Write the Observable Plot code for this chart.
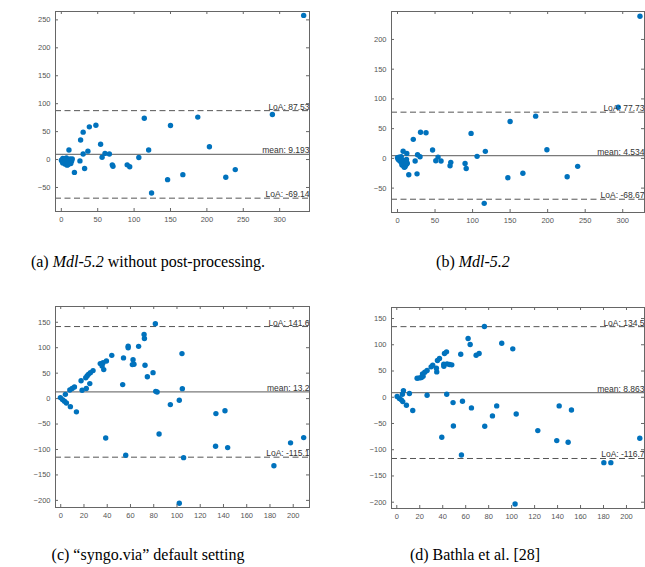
<!DOCTYPE html>
<html>
<head>
<meta charset="utf-8">
<script src="https://cdn.jsdelivr.net/npm/d3@7"></script>
<script src="https://cdn.jsdelivr.net/npm/@observablehq/plot@0.6"></script>
<style>
  body { margin: 0; background: #fff; }
  #wrap { position: relative; width: 645px; height: 567px; overflow: hidden; background: #fff; }
  .pane { position: absolute; }
  .cap { position: absolute; text-align: center; font-family: "Liberation Serif", "Times New Roman", serif; font-size: 16px; line-height: 18px; color: #000; white-space: nowrap; }
</style>
</head>
<body>
<div id="wrap"></div>
<script>
// ---- data: [mean, difference] pairs ----
const pointsA = [[333,258],[290,80.5],[114,74],[150,61],[187.5,76],[203.5,23],[226,-31.6],[239,-18],[167,-27],[146,-36],[124,-60],[120,17],[106.5,3.6],[90.5,-9.5],[94,-13],[70,-9.5],[71,-12],[66,10],[60,11],[56,4],[54,27.5],[47.5,61.5],[38.5,58.5],[30,49],[26.5,35],[36.5,15],[30,10],[25.6,-2.4],[32,-16],[18,-23],[10.5,17],
  [0,-1],[1,-3],[2,2],[3,-5],[4,1],[5,-8],[6,-2],[7,3],[8,-10],[9,-6],[10,-1],[11,-4],[12,1],[13,-7],[14,-3],[15,1],[3,-2],[5,-4],[7,-6],[9,-9],[11,-2],[2,-6],[6,0],[10,-8],[8,-4]];
const pointsB = [[323,239],[294,86],[184,71],[150,62],[199,14.6],[226,-31],[240,-13.4],[167,-25],[147,-32.5],[115.5,-75.6],[117,11.8],[106,3.4],[98,42],[90,-8.4],[91.5,-17],[71,-6.7],[70,-12.3],[58,-4.5],[54,2.2],[51,-4],[46.7,14],[38,43],[30.7,44],[21,32],[26.7,6],[30,2.8],[23.5,-4.5],[26,-26],[15,-27.5],[12.4,8.4],[7.5,12],
  [0,1],[1,-2],[2,2],[3,-4],[4,0],[5,-6],[6,-9],[7,-3],[8,-12],[9,-7],[10,-14],[11,-5],[12,-10],[13,-8],[2,-1],[4,-5],[6,-11],[8,-6],[10,-13],[12,-2],[5,3],[9,-15],[3,-3],[11,-9]];
const pointsC = [[-0.3,2],[1.5,-2],[3.2,-5.3],[4.9,-8.6],[8.3,-15.8],[13.5,-26],[4,8.4],[7.8,17],[9.8,20],[11.8,22.8],[17.5,35],[18.4,16.3],[21.5,41],[22.7,44.4],[23.8,47.7],[25.5,51],[27.8,55],[22,20],[25,29.5],[34,68.8],[36.4,70.7],[35.6,64],[37,57],[39.3,74],[43.9,85],[53.3,27.5],[54,80],[38.7,-77.4],[55.9,-111.4],[58,103],[58,100],[62.2,76.6],[61.6,66.8],[63,67.4],[67,102.7],[71.7,126],[72,118],[72.5,65.4],[74.5,43],[79.4,51],[81.4,147],[81.7,14.3],[82.9,13],[84.6,-69.5],[94.3,-11.8],[102,-3.3],[104.3,88.4],[104.6,19.6],[105.7,-116],[102,-205.6],[133.5,-29.5],[141.3,-24],[133.2,-93.6],[143.6,-96.3],[183.4,-132],[197.7,-87],[209,-76.6]];
const pointsD = [[76.3,134.8],[62.1,111.9],[63.9,100.4],[91.4,103],[101,92.2],[55.7,82],[69.1,80],[71.7,83.3],[43.3,86.5],[41.5,83.3],[37.2,73.7],[35.4,70],[34.5,55.3],[34.8,48.3],[41,59],[40.9,63],[43.8,63.6],[45.9,62.3],[47.9,61.7],[31.3,61],[29.9,57.9],[26.4,50.9],[24.4,47.7],[22.4,44.5],[22.9,40],[21.5,37.5],[19.7,36.9],[17.7,36.2],[57.2,-7.6],[43.5,5.7],[26.4,3.8],[11,7],[5.8,12.7],[4.9,5.7],[0.3,1.3],[2.3,-2.5],[4,-5],[5.2,-8.3],[8.4,-15.3],[13.9,-25.4],[49,-10.2],[65,-20.3],[87,-16.5],[83.3,-35.6],[104,-31.8],[76.6,-55.3],[49.3,-54.7],[39.2,-76.3],[56.3,-110],[103,-203.4],[122.8,-63.6],[139.3,-82.6],[149.2,-85.8],[141.4,-16.5],[152.1,-24.2],[180.3,-124.6],[186.4,-124.6],[211.6,-78.2]];

// reference lines: [upper LoA, mean, lower LoA] and their labels
const linesA = [87.53, 9.193, -69.14];
const linesB = [77.73, 4.534, -68.67];
const linesC = [141.6, 13.2, -115.1];
const linesD = [134.5, 8.863, -116.7];
const labelsA = ["LoA: 87.53", "mean: 9.193", "LoA: -69.14"];
const labelsB = ["LoA: 77.73", "mean: 4.534", "LoA: -68.67"];
const labelsC = ["LoA: 141.6", "mean: 13.2", "LoA: -115.1"];
const labelsD = ["LoA: 134.5", "mean: 8.863", "LoA: -116.7"];

// tick labels
const xTicksAB = [0, 50, 100, 150, 200, 250, 300];
const yTicksA = [-50, 0, 50, 100, 150, 200, 250];
const yTicksB = [-50, 0, 50, 100, 150, 200];
const xTicksCD = [0, 20, 40, 60, 80, 100, 120, 140, 160, 180, 200];
const yTicksCD = [-200, -150, -100, -50, 0, 50, 100, 150];

const captions = [
  {html: '(a) <i>Mdl-5.2</i> without post-processing.', cx: 148, cy: 262},
  {html: '(b) <i>Mdl-5.2</i>', cx: 473, cy: 262},
  {html: '(c) \u201csyngo.via\u201d default setting', cx: 148, cy: 555},
  {html: '(d) Bathla et al. [28]', cx: 475, cy: 555}
];

const BLUE = "#0072BD";

function panel(cfg) {
  const {pts, xDom, yDom, xTicks, yTicks, lines, labels, width, height, m} = cfg;
  const iw = width - m.left - m.right;
  const ih = height - m.top - m.bottom;
  const labelData = lines.map((v, i) => ({v, t: labels[i]}));
  return Plot.plot({
    width, height,
    marginLeft: m.left, marginRight: m.right, marginTop: m.top, marginBottom: m.bottom,
    style: {fontFamily: "'Liberation Sans', Arial, sans-serif", color: "#555", background: "transparent", overflow: "visible"},
    x: {domain: xDom, axis: null},
    y: {domain: yDom, axis: null},
    marks: [
      Plot.ruleY([lines[0], lines[2]], {y: d => d, stroke: "#555", strokeWidth: 1, strokeDasharray: "6,3.5"}),
      Plot.ruleY([lines[1]], {y: d => d, stroke: "#7a7a7a", strokeWidth: 1.3}),
      Plot.dot(pts, {x: d => d[0], y: d => d[1], r: 2.7, fill: BLUE, stroke: null}),
      Plot.text(labelData, {x: xDom[1], y: d => d.v, text: d => d.t, textAnchor: "end", lineAnchor: "bottom", dy: -1, fontSize: 8.5, fill: "#333"}),
      // inward ticks on all four sides (MATLAB style)
      Plot.tickX(xTicks, {x: d => d, insetTop: ih - 3, stroke: "#666"}),
      Plot.tickX(xTicks, {x: d => d, insetBottom: ih - 3, stroke: "#666"}),
      Plot.tickY(yTicks, {y: d => d, insetRight: iw - 3, stroke: "#666"}),
      Plot.tickY(yTicks, {y: d => d, insetLeft: iw - 3, stroke: "#666"}),
      Plot.axisX(xTicks, {tickSize: 0, tickPadding: 5, fontSize: 7.5, fill: "#555"}),
      Plot.axisY(yTicks, {tickSize: 0, tickPadding: 5, fontSize: 7.5, fill: "#555"}),
      Plot.frame({stroke: "#666", strokeWidth: 1})
    ]
  });
}

const wrap = document.getElementById("wrap");
const specs = [
  {left: 0, top: 0, cfg: {pts: pointsA, xDom: [-8, 341], yDom: [-93, 265], xTicks: xTicksAB, yTicks: yTicksA, lines: linesA, labels: labelsA, width: 320, height: 232, m: {left: 55, right: 11, top: 11, bottom: 21}}},
  {left: 330, top: 0, cfg: {pts: pointsB, xDom: [-8, 329], yDom: [-91, 247], xTicks: xTicksAB, yTicks: yTicksB, lines: linesB, labels: labelsB, width: 315, height: 232, m: {left: 61, right: 1, top: 11, bottom: 20}}},
  {left: 0, top: 290, cfg: {pts: pointsC, xDom: [-4.5, 214], yDom: [-214, 181], xTicks: xTicksCD, yTicks: yTicksCD, lines: linesC, labels: labelsC, width: 320, height: 235, m: {left: 55, right: 11, top: 16, bottom: 18}}},
  {left: 330, top: 290, cfg: {pts: pointsD, xDom: [-4.6, 215.7], yDom: [-212, 171], xTicks: xTicksCD, yTicks: yTicksCD, lines: linesD, labels: labelsD, width: 315, height: 235, m: {left: 61, right: 1, top: 17, bottom: 17}}}
];
for (const s of specs) {
  const el = panel(s.cfg);
  el.classList.add("pane");
  el.style.left = s.left + "px";
  el.style.top = s.top + "px";
  wrap.appendChild(el);
}
for (const c of captions) {
  const d = document.createElement("div");
  d.className = "cap";
  d.innerHTML = c.html;
  wrap.appendChild(d);
  const w = d.getBoundingClientRect().width;
  d.style.left = (c.cx - w / 2) + "px";
  d.style.top = (c.cy - 9) + "px";
}
</script>
</body>
</html>
